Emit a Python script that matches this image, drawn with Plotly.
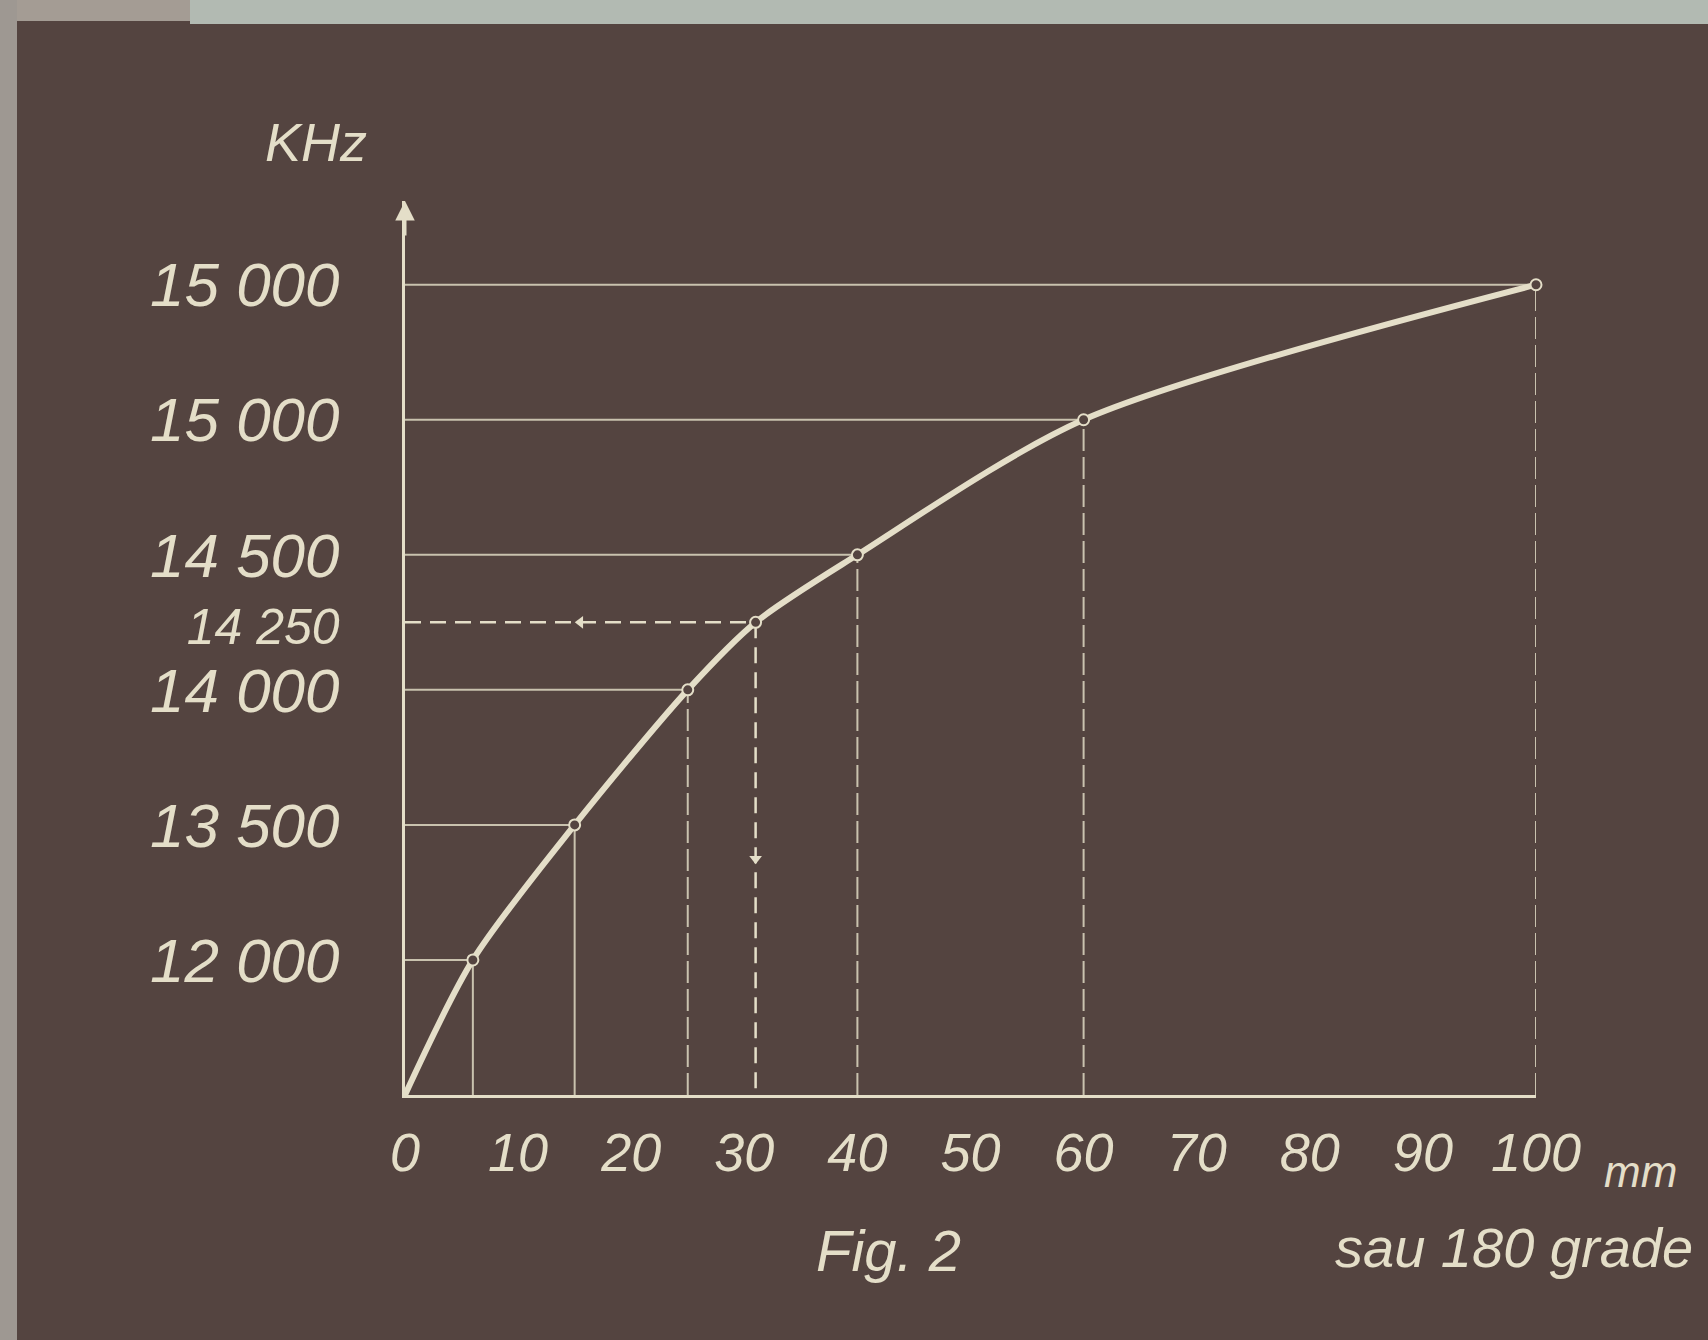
import plotly.graph_objects as go

# ---- data ----
x_mm = [0, 6, 15, 25, 31, 40, 60, 100]          # displacement, mm
y_level = [0, 1, 2, 3, 3.5, 4, 5, 6]             # position on the (hand-drawn, ordinal) kHz scale
y_tick_vals = [1, 2, 3, 3.5, 4, 5, 6]
y_tick_text = ["12 000", "13 500", "14 000", "14 250", "14 500", "15 000", "15 000"]
x_tick_vals = [0, 10, 20, 30, 40, 50, 60, 70, 80, 90, 100]
x_tick_text = ["0", "10", "20", "30", "40", "50", "60", "70", "80", "90", "100"]
reading_index = 4                                  # the 14 250 kHz reading (dashed)

W, H = 1708, 1340
ML, MR, MT, MB = 405, 172, 201, 245
BG = "rgb(84,68,64)"
CHALK = "rgb(228,222,200)"
CHALK_DIM = "rgba(222,216,194,0.85)"
FONT = "Liberation Sans, Arial, sans-serif"

fig = go.Figure()

# horizontal guide lines (solid) and vertical drop lines
h_x, h_y = [], []
for i in range(1, len(x_mm)):
    if i == reading_index:
        continue
    h_x += [0, x_mm[i], None]
    h_y += [y_level[i], y_level[i], None]
fig.add_trace(go.Scatter(x=h_x, y=h_y, mode="lines",
                         line=dict(color=CHALK_DIM, width=2), hoverinfo="skip", cliponaxis=False))

v_solid_x, v_solid_y, v_dash_x, v_dash_y = [], [], [], []
for i in range(1, len(x_mm)):
    if i == reading_index:
        continue
    if i <= 2:
        v_solid_x += [x_mm[i], x_mm[i], None]
        v_solid_y += [0, y_level[i], None]
    else:
        v_dash_x += [x_mm[i], x_mm[i], None]
        v_dash_y += [0, y_level[i], None]
fig.add_trace(go.Scatter(x=v_solid_x, y=v_solid_y, mode="lines",
                         line=dict(color=CHALK_DIM, width=2), hoverinfo="skip", cliponaxis=False))
fig.add_trace(go.Scatter(x=v_dash_x, y=v_dash_y, mode="lines",
                         line=dict(color=CHALK_DIM, width=2, dash="22px,6px"), hoverinfo="skip", cliponaxis=False))

# dashed reading lines for 14 250 kHz
xr, yr = x_mm[reading_index], y_level[reading_index]
fig.add_trace(go.Scatter(x=[0, xr, None, xr, xr], y=[yr, yr, None, yr, 0], mode="lines",
                         line=dict(color=CHALK, width=2.5, dash="16px,9px"), hoverinfo="skip", cliponaxis=False))
fig.add_trace(go.Scatter(x=[xr / 2], y=[yr], mode="markers",
                         marker=dict(symbol="triangle-left", size=11, color=CHALK), hoverinfo="skip"))
fig.add_trace(go.Scatter(x=[xr], y=[yr / 2], mode="markers",
                         marker=dict(symbol="triangle-down", size=11, color=CHALK), hoverinfo="skip"))

# the calibration curve
fig.add_trace(go.Scatter(x=x_mm, y=y_level, mode="lines",
                         line=dict(color=CHALK, width=6, shape="spline", smoothing=0.8),
                         hoverinfo="skip", cliponaxis=False))
fig.add_trace(go.Scatter(x=x_mm[1:], y=y_level[1:], mode="markers",
                         marker=dict(symbol="circle", size=11, color=BG,
                                     line=dict(color=CHALK, width=2)),
                         hoverinfo="skip", cliponaxis=False))

# y-axis arrow
fig.add_annotation(x=0, y=6.62, xref="x", yref="y", ax=0, ay=36, text="",
                   showarrow=True, arrowhead=2, arrowsize=1.3, arrowwidth=3, arrowcolor=CHALK)

# helpers: figure pixels -> paper coordinates
def px_to_paper_x(px):
    return (px - ML) / (W - ML - MR)

def px_to_paper_y(py):
    return (H - MB - py) / (H - MT - MB)

def label(text, px, py, size):
    fig.add_annotation(x=px_to_paper_x(px), y=px_to_paper_y(py), xref="paper", yref="paper",
                       xanchor="center", yanchor="middle", text=text, showarrow=False,
                       font=dict(family=FONT, size=size, color=CHALK, style="italic"))

label("KHz", 316, 142, 54)
label("mm", 1640, 1171, 44)
label("sau 180 grade", 1514, 1247, 56)
label("Fig. 2", 888, 1250, 58)

# frame of the photographed board
fig.add_shape(type="rect", xref="paper", yref="paper",
              x0=px_to_paper_x(0), x1=px_to_paper_x(190), y0=px_to_paper_y(21), y1=px_to_paper_y(0),
              fillcolor="rgb(164,156,148)", line=dict(width=0), layer="below")
fig.add_shape(type="rect", xref="paper", yref="paper",
              x0=px_to_paper_x(190), x1=px_to_paper_x(W), y0=px_to_paper_y(24), y1=px_to_paper_y(0),
              fillcolor="rgb(178,186,178)", line=dict(width=0), layer="below")
fig.add_shape(type="rect", xref="paper", yref="paper",
              x0=px_to_paper_x(0), x1=px_to_paper_x(17), y0=px_to_paper_y(H), y1=px_to_paper_y(0),
              fillcolor="rgb(158,152,146)", line=dict(width=0), layer="below")

y_text = [t if t != "14 250" else "<span style='font-size:50px'>14 250</span>" for t in y_tick_text]

fig.update_layout(
    width=W, height=H,
    margin=dict(l=ML, r=MR, t=MT, b=MB, pad=0),
    paper_bgcolor=BG, plot_bgcolor=BG,
    showlegend=False,
    xaxis=dict(range=[0, 100], tickvals=x_tick_vals, ticktext=x_tick_text,
               showgrid=False, zeroline=False, showline=True, linecolor=CHALK, linewidth=3,
               ticks="", ticklabelstandoff=8,
               tickfont=dict(family=FONT, size=54, color=CHALK, style="italic")),
    yaxis=dict(range=[0, 6.62], tickvals=y_tick_vals, ticktext=y_text,
               showgrid=False, zeroline=False, showline=True, linecolor=CHALK, linewidth=3,
               ticks="", ticklabelstandoff=50,
               tickfont=dict(family=FONT, size=62, color=CHALK, style="italic")),
)

fig.write_html("out.html", config={"displayModeBar": False},
               post_script="document.body.style.margin='0';")
